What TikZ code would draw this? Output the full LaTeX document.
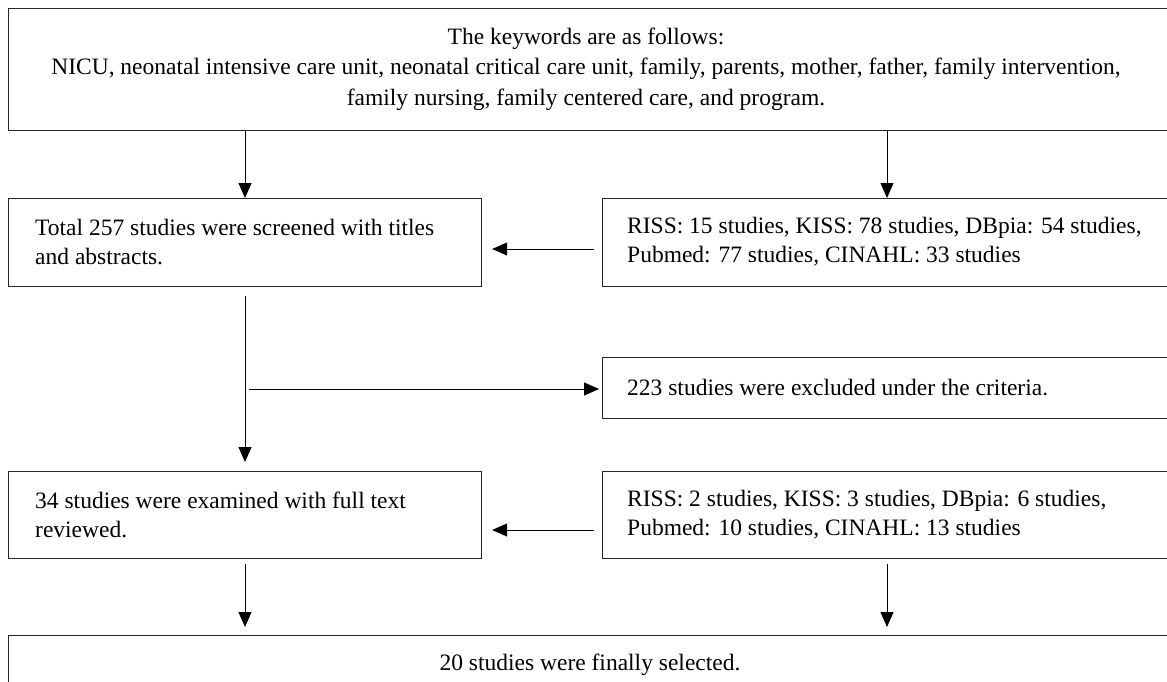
\documentclass[tikz,border=0pt]{standalone}
\usepackage{fontspec}
\setmainfont{Liberation Serif}
\usetikzlibrary{arrows.meta}
\begin{document}
\begin{tikzpicture}[x=1pt,y=-1pt,
  box/.style={draw=black!85, line width=1.1pt, anchor=north west, inner sep=0pt},
  txt/.style={inner sep=0pt, align=left, anchor=west, font=\fontsize{23.5}{29}\selectfont},
  ctxt/.style={inner sep=0pt, align=center, font=\fontsize{23.5}{30.5}\selectfont},
  arr/.style={line width=1pt, -{Triangle[length=15pt,width=13pt]}}
]
\useasboundingbox (0,0) rectangle (1167,681);
% boxes
\node[box, minimum width=1170pt, minimum height=122pt] (top) at (8,8) {};
\node[ctxt] (topt) at (586,69) {The keywords are as follows:\\NICU, neonatal intensive care unit, neonatal critical care unit, family, parents, mother, father, family intervention,\\family nursing, family centered care, and program.};

\node[box, minimum width=473pt, minimum height=88pt] (b2) at (8,198) {};
\node[txt] (b2t) at (35,242) {Total 257 studies were screened with titles\\and abstracts.};

\node[box, minimum width=600pt, minimum height=88pt] (r1) at (602,198) {};
\node[txt] (r1t) at (627,242) {RISS: 15 studies, KISS: 78 studies, DBpia: 54 studies,\\Pubmed: 77 studies, CINAHL: 33 studies};

\node[box, minimum width=600pt, minimum height=61pt] (ex) at (602,357) {};
\node[txt] (ext) at (627,387.5) {223 studies were excluded under the criteria.};

\node[box, minimum width=473pt, minimum height=87pt] (b3) at (8,471) {};
\node[txt] (b3t) at (35,514.5) {34 studies were examined with full text\\reviewed.};

\node[box, minimum width=600pt, minimum height=87pt] (r2) at (602,471) {};
\node[txt] (r2t) at (627,514.5) {RISS: 2 studies, KISS: 3 studies, DBpia: 6 studies,\\Pubmed: 10 studies, CINAHL: 13 studies};

\node[box, minimum width=1170pt, minimum height=65pt] (fin) at (8,635) {};
\node[ctxt] (fint) at (590,665) {20 studies were finally selected.};

% helper coordinates
\coordinate (cl) at (245,0);
\coordinate (cr) at (887,0);
\coordinate (y1) at (0,249);
\coordinate (y2) at (0,530);
\coordinate (br) at (249,389);

% connectors
\draw[arr] (top.south -| cl) -- (b2.north -| cl);
\draw[arr] (top.south -| cr) -- (r1.north -| cr);
\draw[arr, shorten <=8pt, shorten >=10pt] (r1.west |- y1) -- (b2.east |- y1);
\draw[arr, shorten <=9pt, shorten >=9pt] (b2.south -| cl) -- (b3.north -| cl);
\draw[arr, shorten >=3pt] (br) -- (ex.west |- br);
\draw[arr, shorten <=8pt, shorten >=10pt] (r2.west |- y2) -- (b3.east |- y2);
\draw[arr, shorten <=5pt, shorten >=8pt] (b3.south -| cl) -- (fin.north -| cl);
\draw[arr, shorten <=5pt, shorten >=8pt] (r2.south -| cr) -- (fin.north -| cr);
\end{tikzpicture}
\end{document}
